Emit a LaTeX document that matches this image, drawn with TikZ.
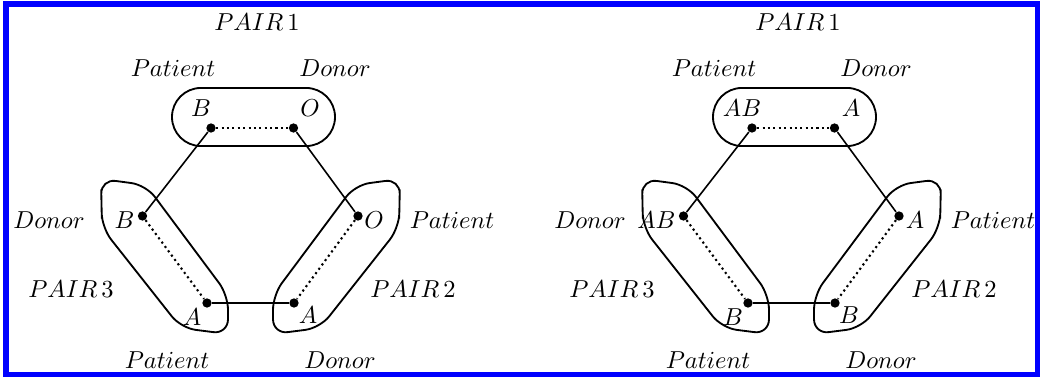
\documentclass[tikz,border=0pt]{standalone}
\usetikzlibrary{shapes}

\begin{document}
\begin{tikzpicture}[x=0.408pt, y=-0.408pt, every node/.style={inner sep=0pt}]
  \colorlet{cadre}{blue}
  \tikzstyle{dot}=[circle, fill=black, minimum size=3.8pt, inner sep=0pt]
  \tikzstyle{pairbox}=[draw, line width=0.75pt, rounded corners=6pt]
  \tikzstyle{edge}=[line width=0.65pt]
  \tikzstyle{couple}=[line width=0.85pt, dash pattern=on 0.85pt off 1.35pt]
  \useasboundingbox (0,0) rectangle (1040,378);
  \draw[cadre, line width=2.05pt] (6,4) rectangle (1037.5,374.5);
  \foreach \s/\dx/\ta/\tb/\tc/\td/\te/\tf in {l/0/B/O/O/A/B/A, r/541/AB/A/A/B/AB/B} {
    \begin{scope}[shift={(\dx,0)}]
      % pairs
      \node[draw, line width=0.75pt, rounded corners=11.8pt, minimum width=66.5pt, minimum height=23.7pt] (box1\s) at (253.5,117) {};
      \draw[pairbox] (101.5,204) -- (101,179) -- (146,185) -- (228,295) -- (228,334) -- (181,328) -- (102,228) -- cycle;
      \draw[pairbox] (399.5,204) -- (400,179) -- (355,185) -- (273,295) -- (273,334) -- (320,328) -- (399,228) -- cycle;
      \node[dot] (p1a\s) at (211,128) {};
      \node[dot] (p1b\s) at (293.5,128) {};
      \node[dot] (p2a\s) at (358,216) {};
      \node[dot] (p2b\s) at (294,303) {};
      \node[dot] (p3a\s) at (207,303) {};
      \node[dot] (p3b\s) at (142.5,216) {};
      \draw[couple] (p1a\s) -- (p1b\s);
      \draw[couple] (p2a\s) -- (p2b\s);
      \draw[couple] (p3b\s) -- (p3a\s);
      \draw[edge] (p1a\s) -- (p3b\s);
      \draw[edge] (p1b\s) -- (p2a\s);
      \draw[edge, line width=1pt] (p3a\s) -- (p2b\s);
      % labels
      \node (pair1\s) at (257,22) {$PAIR\,1$};
      \node (pair2\s) at (413,289) {$PAIR\,2$};
      \node (pair3\s) at (71,289) {$PAIR\,3$};
      \node at (173,68) {$Patient$};
      \node at (335,68) {$Donor$};
      \node at (452,220) {$Patient$};
      \node at (49,220) {$Donor$};
      \node at (167,360) {$Patient$};
      \node at (340,360) {$Donor$};
      \node at (201,108) {$\ta$};
      \node at (310,108) {$\tb$};
      \node at (374,220) {$\tc$};
      \node at (308,315) {$\td$};
      \node[anchor=east] at (135,220) {$\te$};
      \node at (192,317) {$\tf$};
    \end{scope}
  }
\end{tikzpicture}
\end{document}
